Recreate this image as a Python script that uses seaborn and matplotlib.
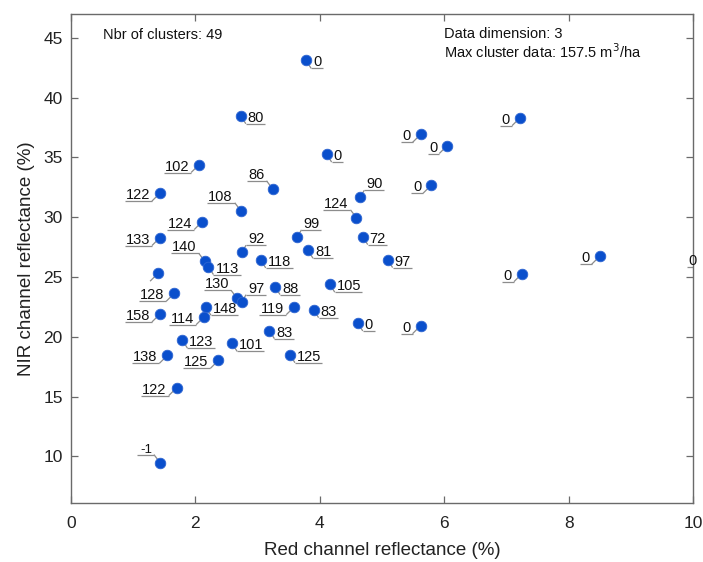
import matplotlib
matplotlib.use("Agg")
import matplotlib.pyplot as plt
import seaborn as sns
import pandas as pd

# cluster centres: red / NIR reflectance (%) and cluster data value (m3/ha)
red_refl = [3.78, 2.73, 4.11, 2.06, 3.24, 1.43, 4.65, 7.22, 5.62, 6.05,
            5.79, 2.73, 2.11, 1.43, 3.64, 2.75, 3.81, 2.15, 2.21, 3.05,
            1.40, 1.66, 4.16, 3.28, 2.67, 2.75, 2.17, 3.59, 3.90, 1.43,
            2.14, 3.19, 4.59, 4.69, 5.09, 8.50, 7.25, 10.22, 4.61, 5.62,
            1.79, 2.59, 1.55, 2.37, 3.52, 1.70, 1.43]
nir_refl = [43.12, 38.49, 35.28, 34.41, 32.38, 32.02, 31.67, 38.33, 36.93, 36.00,
            32.68, 30.54, 29.64, 28.30, 28.36, 27.08, 27.24, 26.32, 25.87, 26.43,
            25.32, 23.64, 24.40, 24.20, 23.22, 22.94, 22.47, 22.52, 22.27, 21.91,
            21.68, 20.51, 29.95, 28.38, 26.46, 26.74, 25.28, 26.47, 21.16, 20.93,
            19.73, 19.45, 18.45, 18.03, 18.50, 15.75, 9.48]
cluster_data = ["0", "80", "0", "102", "86", "122", "90", "0", "0", "0",
                "0", "108", "124", "133", "99", "92", "81", "140", "113", "118",
                "", "128", "105", "88", "130", "97", "148", "119", "83", "158",
                "114", "83", "124", "72", "97", "0", "0", "0", "0", "0",
                "123", "101", "138", "125", "125", "122", "-1"]

# where each label sits relative to its point
label_side = ["r", "r", "r", "l", "ul", "l", "ur", "l", "l", "l",
              "l", "ul", "l", "l", "ur", "ur", "r", "ul", "r", "r",
              "l", "l", "r", "r", "ul", "ur", "r", "l", "r", "l",
              "l", "r", "ul", "r", "r", "l", "l", "l", "r", "l",
              "r", "r", "l", "l", "r", "l", "ul"]

N_CLUSTERS = 49
DATA_DIM = 3
MAX_CLUSTER = 157.5

FIG_W, FIG_H = 703, 562
AX_LEFT, AX_RIGHT, AX_TOP, AX_BOTTOM = 71, 693, 14, 503
XLIM = (0, 10)
YLIM = (6.1, 47.0)

sns.set_style("white")
plt.rcParams["font.family"] = ["Liberation Sans", "DejaVu Sans"]

fig = plt.figure(figsize=(FIG_W / 100, FIG_H / 100), dpi=100)
ax = fig.add_axes([AX_LEFT / FIG_W, 1 - AX_BOTTOM / FIG_H,
                   (AX_RIGHT - AX_LEFT) / FIG_W, (AX_BOTTOM - AX_TOP) / FIG_H])

df = pd.DataFrame({"red": red_refl, "nir": nir_refl,
                   "label": cluster_data, "side": label_side})

sns.scatterplot(data=df, x="red", y="nir", ax=ax, color="#0a4fcc", s=58,
                edgecolor="#2f66d2", linewidth=0.6, zorder=3)

ax.set_xlim(XLIM)
ax.set_ylim(YLIM)
ax.set_xticks(range(0, 11, 2))
ax.set_yticks(range(10, 46, 5))

# pixel -> data scale
sx = (AX_RIGHT - AX_LEFT) / (XLIM[1] - XLIM[0])
sy = (AX_BOTTOM - AX_TOP) / (YLIM[1] - YLIM[0])

ELBOW = {"r": (5, 8), "l": (-8, 8), "ul": (-6, -8), "ur": (4, -7)}
DIGIT_W = 7.8
leader = dict(color="#8c8c8c", lw=0.9, zorder=2, solid_capstyle="butt")

for _, row in df.iterrows():
    ex, ey = ELBOW[row.side]
    small = row.label.startswith("-")
    w = (len(row.label) * (6.5 if small else DIGIT_W) + 4) if row.label else 0
    to_right = row.side in ("r", "ur")
    x0, y0 = row.red, row.nir
    xe, ye = x0 + ex / sx, y0 - ey / sy
    xend = xe + (w if to_right else -w) / sx
    ax.plot([x0, xe], [y0, ye], **leader)
    if w:
        ax.plot([xe, xend], [ye, ye], **leader)
        tx = xe + (2 if to_right else -2) / sx
        ax.text(tx, ye + 2 / sy, row.label, ha="left" if to_right else "right",
                va="baseline", fontsize=9.5 if small else 10.5, color="#111111",
                zorder=4)

ax.text(103 / FIG_W, 1 - 35 / FIG_H, f"Nbr of clusters: {N_CLUSTERS}",
        transform=fig.transFigure, fontsize=10.5, va="center", color="#111111")
ax.text(444 / FIG_W, 1 - 34 / FIG_H, f"Data dimension: {DATA_DIM}",
        transform=fig.transFigure, fontsize=10.5, va="center", color="#111111")
ax.text(444 / FIG_W, 1 - 52 / FIG_H,
        f"Max cluster data: {MAX_CLUSTER} m$^3$/ha",
        transform=fig.transFigure, fontsize=10.5, va="center", color="#111111")

ax.set_xlabel("Red channel reflectance (%)", fontsize=13.5, color="#222222", labelpad=8)
ax.set_ylabel("NIR channel reflectance (%)", fontsize=13.5, color="#222222", labelpad=6)

for s in ax.spines.values():
    s.set_visible(True)
    s.set_color("#6a6a6a")
    s.set_linewidth(1.0)

ax.tick_params(direction="in", length=5, width=0.9, color="#6a6a6a",
               labelsize=12.5, labelcolor="#222222", top=True, right=True,
               bottom=True, left=True)
ax.tick_params(axis="x", pad=9)
ax.tick_params(axis="y", pad=6)

fig.savefig("out.png", dpi=100)
